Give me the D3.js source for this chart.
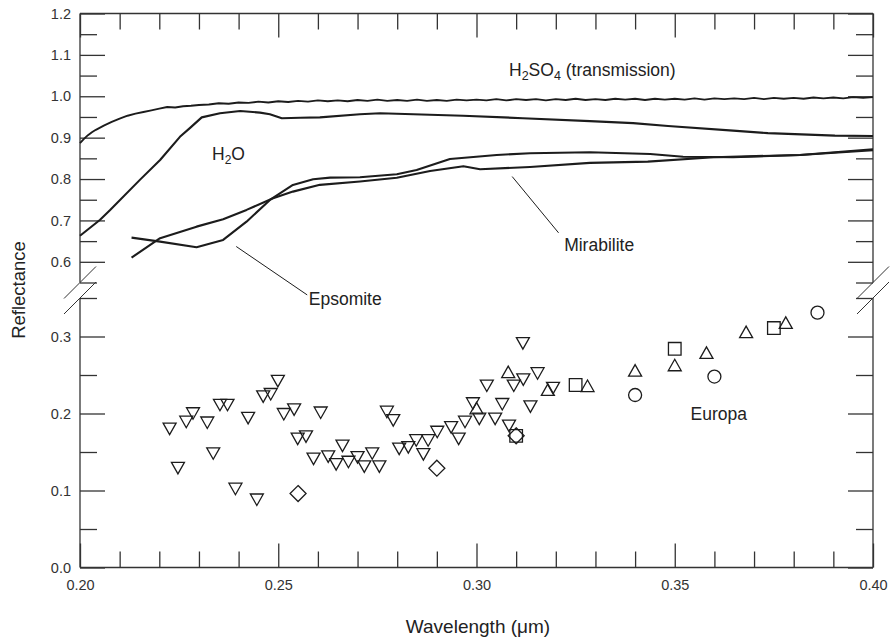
<!DOCTYPE html>
<html>

<head>
  <title>Reflectance vs wavelength</title>

  <style>
    body,
    html {
      margin: 0;
      padding: 0;
      background: #fff;
    }

    svg text {
      font-family: "Liberation Sans", Arial, Helvetica, sans-serif;
    }
  </style>
</head>


<body>

  <svg id="svg" width="891" height="642"></svg>

  <script src="https://d3js.org/d3.v7.min.js"></script>

  <script>
    // axis ticks
    const xMajor = [0.20, 0.25, 0.30, 0.35, 0.40]
    const xMinor = [0.21, 0.22, 0.23, 0.24, 0.26, 0.27, 0.28, 0.29, 0.31, 0.32, 0.33, 0.34, 0.36, 0.37, 0.38, 0.39]
    const upMajor = [0.6, 0.7, 0.8, 0.9, 1.0, 1.1, 1.2]
    const upMinor = [0.55, 0.65, 0.75, 0.85, 0.95, 1.05, 1.15]
    const lowMajor = [0.0, 0.1, 0.2, 0.3]
    const lowMinor = [0.05, 0.15, 0.25, 0.35]

    // lab spectra (upper panel) [wavelength, reflectance]
    const h2so4 = [
      [0.200, 0.887], [0.201, 0.897], [0.202, 0.906], [0.203, 0.913], [0.204, 0.919], [0.206, 0.929],
      [0.208, 0.938], [0.210, 0.946], [0.212, 0.953], [0.214, 0.958], [0.216, 0.962], [0.218, 0.966],
      [0.220, 0.970], [0.222, 0.974], [0.224, 0.973], [0.226, 0.976], [0.228, 0.977], [0.230, 0.979],
      [0.2325, 0.980], [0.235, 0.983], [0.2375, 0.982], [0.240, 0.985], [0.2425, 0.984], [0.245, 0.987],
      [0.2475, 0.985], [0.250, 0.988], [0.2525, 0.986], [0.255, 0.989], [0.2575, 0.987], [0.260, 0.990],
      [0.2625, 0.988], [0.265, 0.990], [0.2675, 0.988], [0.270, 0.991], [0.2725, 0.989], [0.275, 0.992],
      [0.2775, 0.989], [0.280, 0.991], [0.2825, 0.989], [0.285, 0.992], [0.2875, 0.989], [0.290, 0.991],
      [0.2925, 0.989], [0.295, 0.992], [0.2975, 0.990], [0.300, 0.992], [0.3025, 0.990], [0.305, 0.993],
      [0.3075, 0.990], [0.310, 0.993], [0.3125, 0.991], [0.315, 0.993], [0.3175, 0.990], [0.320, 0.993],
      [0.3225, 0.991], [0.325, 0.994], [0.3275, 0.991], [0.330, 0.993], [0.3325, 0.991], [0.335, 0.994],
      [0.3375, 0.992], [0.340, 0.994], [0.3425, 0.991], [0.345, 0.994], [0.3475, 0.992], [0.350, 0.994],
      [0.3525, 0.992], [0.355, 0.995], [0.3575, 0.992], [0.360, 0.995], [0.3625, 0.993], [0.365, 0.995],
      [0.3675, 0.993], [0.370, 0.996], [0.3725, 0.993], [0.375, 0.996], [0.3775, 0.994], [0.380, 0.996],
      [0.3825, 0.994], [0.385, 0.997], [0.3875, 0.995], [0.390, 0.997], [0.3925, 0.995], [0.395, 0.998],
      [0.3975, 0.996], [0.400, 0.998]
    ]
    const h2o = [
      [0.2000, 0.663], [0.2050, 0.701], [0.2076, 0.725], [0.2151, 0.798], [0.2202, 0.846], [0.2252, 0.902],
      [0.2277, 0.923], [0.2307, 0.949], [0.2353, 0.959], [0.2404, 0.9645], [0.2454, 0.9604], [0.2479, 0.9565],
      [0.2509, 0.947], [0.2555, 0.948], [0.2605, 0.949], [0.2706, 0.9565], [0.2757, 0.959], [0.2966, 0.953],
      [0.3117, 0.947], [0.3286, 0.940], [0.3395, 0.935], [0.3483, 0.928], [0.3647, 0.917], [0.3735, 0.911],
      [0.3904, 0.905], [0.4000, 0.904]
    ]
    const epsomite = [
      [0.2130, 0.6585], [0.2202, 0.6488], [0.2294, 0.6353], [0.2361, 0.6529], [0.2420, 0.697], [0.2479, 0.7495],
      [0.2537, 0.7857], [0.2588, 0.7995], [0.2631, 0.8034], [0.2706, 0.8043], [0.2799, 0.8116], [0.2849, 0.822],
      [0.2933, 0.8486], [0.3051, 0.8582], [0.3135, 0.8623], [0.3286, 0.8647], [0.3438, 0.8606], [0.3521, 0.854],
      [0.3647, 0.8526], [0.3816, 0.8582], [0.4000, 0.872]
    ]
    const mirabilite = [
      [0.2130, 0.6101], [0.2202, 0.657], [0.2294, 0.685], [0.2361, 0.703], [0.2420, 0.7254], [0.2487, 0.7536],
      [0.2537, 0.7696], [0.2605, 0.786], [0.2706, 0.794], [0.2799, 0.8033], [0.2883, 0.8196], [0.2967, 0.8309],
      [0.3009, 0.8236], [0.3135, 0.8292], [0.3286, 0.839], [0.3432, 0.842], [0.3598, 0.8526], [0.3816, 0.8582],
      [0.4000, 0.8696]
    ]

    // Europa measurements (lower panel)
    const downTri = [
      [0.2226, 0.180], [0.2247, 0.129], [0.2268, 0.189], [0.2285, 0.200], [0.2321, 0.188], [0.2336, 0.148],
      [0.2353, 0.211], [0.2372, 0.211], [0.2392, 0.102], [0.2424, 0.194], [0.2446, 0.088], [0.2462, 0.222],
      [0.2481, 0.225], [0.2499, 0.242], [0.2514, 0.199], [0.2540, 0.205], [0.2549, 0.167], [0.2570, 0.170],
      [0.2607, 0.201], [0.2589, 0.141], [0.2626, 0.144], [0.2662, 0.158], [0.2646, 0.134], [0.2677, 0.137],
      [0.2700, 0.143], [0.2717, 0.131], [0.2737, 0.148], [0.2755, 0.131], [0.2774, 0.202], [0.2790, 0.191],
      [0.2805, 0.154], [0.2828, 0.156], [0.2848, 0.165], [0.2866, 0.147], [0.2878, 0.165], [0.2901, 0.176],
      [0.2936, 0.182], [0.2955, 0.167], [0.2971, 0.189], [0.2991, 0.213], [0.3007, 0.193], [0.3026, 0.236],
      [0.3047, 0.193], [0.3065, 0.212], [0.3082, 0.184], [0.3094, 0.236], [0.3118, 0.244], [0.3154, 0.252],
      [0.3136, 0.209], [0.3193, 0.233], [0.3117, 0.291]
    ]
    const upTri = [
      [0.300, 0.207], [0.308, 0.254], [0.318, 0.231], [0.328, 0.236], [0.340, 0.256],
      [0.350, 0.263], [0.358, 0.279], [0.368, 0.306], [0.378, 0.318]
    ]
    const squares = [[0.310, 0.171], [0.325, 0.237], [0.350, 0.284], [0.375, 0.311]]
    const circles = [[0.340, 0.224], [0.360, 0.248], [0.386, 0.331]]
    const diamonds = [[0.255, 0.096], [0.290, 0.129], [0.310, 0.171]]

    const ink = "#1c1c1c"
    const svg = d3.select("#svg")

    const plotLeft = 80, plotRight = 873, plotTop = 13.5, plotBottom = 567.5
    const breakTop = 282.5, breakBottom = 298

    const x = d3.scaleLinear().domain([0.2, 0.4]).range([plotLeft, plotRight])
    const yUp = d3.scaleLinear().domain([0.55, 1.2]).range([breakTop, plotTop])
    const yLow = d3.scaleLinear().domain([0, 0.35]).range([plotBottom, breakBottom])

    // frame
    const frame = svg.append("g").attr("stroke", "#333").attr("stroke-width", 1.3).attr("fill", "none")
    frame.append("line").attr("x1", plotLeft).attr("x2", plotRight).attr("y1", plotTop).attr("y2", plotTop)
    frame.append("line").attr("x1", plotLeft).attr("x2", plotRight).attr("y1", plotBottom).attr("y2", plotBottom)
    for (const xx of [plotLeft, plotRight]) {
      frame.append("line").attr("x1", xx).attr("x2", xx).attr("y1", plotTop).attr("y2", breakTop)
      frame.append("line").attr("x1", xx).attr("x2", xx).attr("y1", breakBottom).attr("y2", plotBottom)
      for (const yy of [breakTop, breakBottom]) {
        frame.append("line")
          .attr("x1", xx - 16).attr("y1", yy + 16)
          .attr("x2", xx + 16).attr("y2", yy - 16)
          .attr("stroke-width", 1)
      }
    }

    function styleAxis(g) {
      g.select(".domain").remove()
      g.selectAll(".tick line").attr("stroke", "#333").attr("stroke-width", 1.3)
      g.selectAll(".tick text").attr("fill", "#333").attr("font-size", 14.5)
        .style("font-family", "'Liberation Sans', Arial, sans-serif")
    }

    // y axes, left (labels) and right
    const yAxes = [[yUp, upMajor, upMinor], [yLow, lowMajor, lowMinor]]
    for (const [sc, major, minor] of yAxes) {
      svg.append("g").attr("transform", `translate(${plotLeft},0)`)
        .call(d3.axisLeft(sc).tickValues(major).tickSize(-25).tickPadding(9).tickFormat(d3.format(".1f")))
        .call(styleAxis)
      svg.append("g").attr("transform", `translate(${plotLeft},0)`)
        .call(d3.axisLeft(sc).tickValues(minor).tickSize(-17).tickFormat(""))
        .call(styleAxis)
      svg.append("g").attr("transform", `translate(${plotRight},0)`)
        .call(d3.axisRight(sc).tickValues(major).tickSize(-25).tickFormat(""))
        .call(styleAxis)
      svg.append("g").attr("transform", `translate(${plotRight},0)`)
        .call(d3.axisRight(sc).tickValues(minor).tickSize(-17).tickFormat(""))
        .call(styleAxis)
    }

    // x axes
    svg.append("g").attr("transform", `translate(0,${plotBottom})`)
      .call(d3.axisBottom(x).tickValues(xMajor).tickSize(-24).tickPadding(12).tickFormat(d3.format(".2f")))
      .call(styleAxis)
    svg.append("g").attr("transform", `translate(0,${plotBottom})`)
      .call(d3.axisBottom(x).tickValues(xMinor).tickSize(-16).tickFormat(""))
      .call(styleAxis)
    svg.append("g").attr("transform", `translate(0,${plotTop})`)
      .call(d3.axisTop(x).tickValues(xMajor).tickSize(-24).tickFormat(""))
      .call(styleAxis)
    svg.append("g").attr("transform", `translate(0,${plotTop})`)
      .call(d3.axisTop(x).tickValues(xMinor).tickSize(-16).tickFormat(""))
      .call(styleAxis)

    // spectra
    const lineUp = d3.line().x(d => x(d[0])).y(d => yUp(d[1]))
    const curves = svg.append("g").attr("fill", "none").attr("stroke", ink).attr("stroke-width", 2.1)
      .attr("stroke-linejoin", "round")
    curves.append("path").attr("d", lineUp(h2so4)).attr("stroke-width", 1.9)
    curves.append("path").attr("d", lineUp(h2o))
    curves.append("path").attr("d", lineUp(epsomite))
    curves.append("path").attr("d", lineUp(mirabilite))

    // leader lines
    const leaders = [
      [[0.2394, 0.637], [0.2573, 0.520]],
      [[0.3090, 0.806], [0.3207, 0.670]]
    ]
    svg.append("g").selectAll("line").data(leaders).join("line")
      .attr("x1", d => x(d[0][0])).attr("y1", d => yUp(d[0][1]))
      .attr("x2", d => x(d[1][0])).attr("y2", d => yUp(d[1][1]))
      .attr("stroke", ink).attr("stroke-width", 1)

    // markers
    const tw = 13, th = 11.5
    const downPath = `M${-tw / 2},${-th / 2}L${tw / 2},${-th / 2}L0,${th / 2}Z`
    const upPath = `M${-tw / 2},${th / 2}L${tw / 2},${th / 2}L0,${-th / 2}Z`
    const sqPath = "M-6.3,-6.3H6.3V6.3H-6.3Z"
    const diaPath = "M0,-8L8,0L0,8L-8,0Z"
    const marks = svg.append("g").attr("fill", "none").attr("stroke", ink).attr("stroke-width", 1.3)
    const sets = [[downTri, downPath], [upTri, upPath], [squares, sqPath], [diamonds, diaPath]]
    for (const [data, p] of sets) {
      marks.append("g").selectAll("path").data(data).join("path")
        .attr("d", p)
        .attr("transform", d => `translate(${x(d[0])},${yLow(d[1])})`)
    }
    marks.append("g").selectAll("circle").data(circles).join("circle")
      .attr("cx", d => x(d[0])).attr("cy", d => yLow(d[1])).attr("r", 6.5)

    // labels
    const lab = svg.append("g").attr("fill", "#222").attr("font-size", 17.5)
    const h2oLab = lab.append("text").attr("x", x(0.2333)).attr("y", yUp(0.846))
    h2oLab.append("tspan").text("H")
    h2oLab.append("tspan").text("2").attr("font-size", 12).attr("dy", 4)
    h2oLab.append("tspan").text("O").attr("dy", -4)

    const acidLab = lab.append("text").attr("x", x(0.3082)).attr("y", yUp(1.049))
    acidLab.append("tspan").text("H")
    acidLab.append("tspan").text("2").attr("font-size", 12.5).attr("dy", 4)
    acidLab.append("tspan").text("SO").attr("dy", -4)
    acidLab.append("tspan").text("4").attr("font-size", 12.5).attr("dy", 4)
    acidLab.append("tspan").text(" (transmission)").attr("dy", -4)

    lab.append("text").attr("x", x(0.3221)).attr("y", yUp(0.625)).text("Mirabilite")
    lab.append("text").attr("x", x(0.2577)).attr("y", yUp(0.495)).text("Epsomite")
    lab.append("text").attr("x", x(0.3540)).attr("y", yLow(0.1916)).text("Europa")

    // axis titles
    svg.append("text")
      .attr("x", 478).attr("y", 633)
      .attr("text-anchor", "middle").attr("font-size", 19).attr("fill", "#222")
      .text("Wavelength (\u03bcm)")
    svg.append("text")
      .attr("transform", "translate(25,290) rotate(-90)")
      .attr("text-anchor", "middle").attr("font-size", 18.5).attr("fill", "#222")
      .text("Reflectance")
  </script>

</body>

</html>
